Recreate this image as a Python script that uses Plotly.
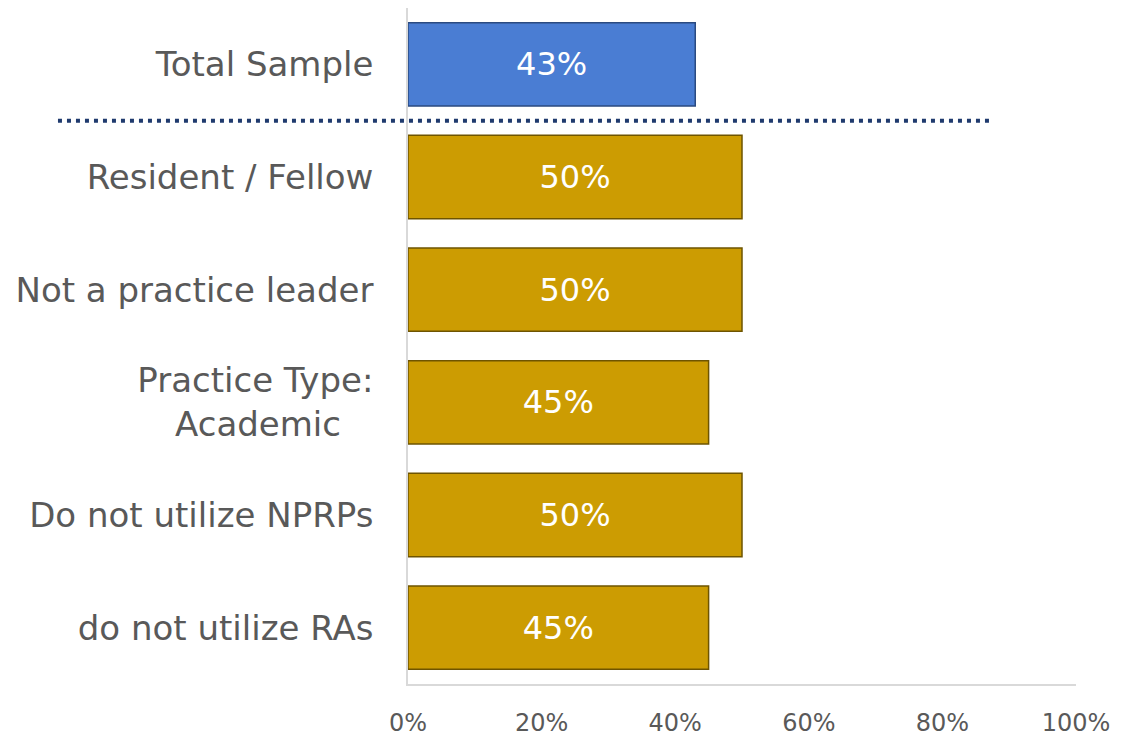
import plotly.graph_objects as go

categories = ["Total Sample", "Resident / Fellow", "Not a practice leader",
              "Practice Type:<br>Academic\u00a0\u00a0\u00a0", "Do not utilize NPRPs", "do not utilize RAs"]
values = [43, 50, 50, 45, 50, 45]
bar_colors = ["#4A7DD3", "#CC9C02", "#CC9C02", "#CC9C02", "#CC9C02", "#CC9C02"]
edge_colors = ["#2A4A80", "#6E5400", "#6E5400", "#6E5400", "#6E5400", "#6E5400"]
tick_vals = [0, 20, 40, 60, 80, 100]
tick_text = ["0%", "20%", "40%", "60%", "80%", "100%"]

FONT = "DejaVu Sans"

fig = go.Figure()
fig.add_trace(go.Bar(
    x=values, y=categories, orientation="h",
    marker=dict(color=bar_colors, line=dict(color=edge_colors, width=1.5)),
    width=0.74,
    text=[f"{v}%" for v in values],
    textposition="inside", insidetextanchor="middle",
    textfont=dict(family=FONT, size=32, color="white"),
    hoverinfo="skip",
))

fig.add_shape(type="line", xref="paper", yref="y",
              x0=-0.524, x1=0.871, y0=0.5, y1=0.5,
              line=dict(color="#1F3A6E", width=4, dash="4px,5px"))

fig.update_layout(
    width=1129, height=730,
    margin=dict(l=400, r=61, t=0, b=54, autoexpand=False),
    plot_bgcolor="white", paper_bgcolor="white",
    showlegend=False,
    bargap=0.26,
)
fig.update_xaxes(range=[0, 100], tickvals=tick_vals, ticktext=tick_text,
                 showgrid=False, zeroline=False, showline=True,
                 linecolor="#D9D9D9", linewidth=1.5,
                 tickfont=dict(family=FONT, size=24, color="#595959"),
                 ticks="", ticklabelstandoff=16)
fig.update_yaxes(autorange="reversed", showgrid=False, showline=True,
                 linecolor="#D9D9D9", linewidth=1.5,
                 tickfont=dict(family=FONT, size=34, color="#595959"),
                 ticks="", ticklabelstandoff=26)

fig.write_html("out.html")
